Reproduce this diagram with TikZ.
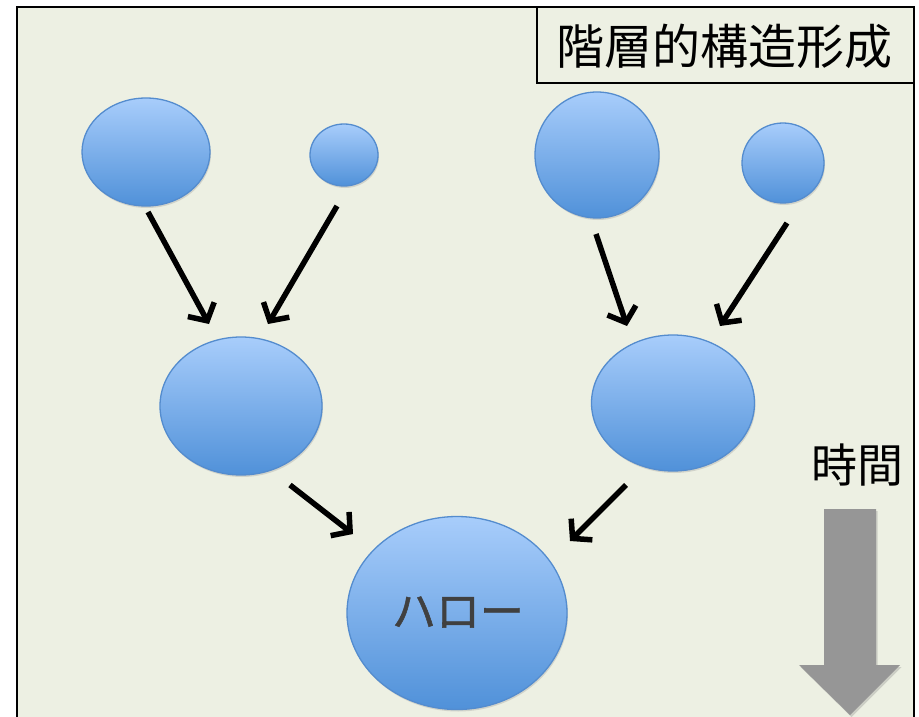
\documentclass[tikz,border=0pt]{standalone}
\usepackage{fontspec}
\newfontfamily\cjk{Noto Sans CJK JP}
\newfontfamily\cjkheavy[FakeBold=1.2]{Noto Sans CJK JP}
\usetikzlibrary{shapes.geometric,arrows.meta,shadows}
\definecolor{bg}{RGB}{237,240,227}
\definecolor{btop}{RGB}{168,205,251}
\definecolor{bbot}{RGB}{80,145,217}
\definecolor{bedge}{RGB}{84,140,206}
\definecolor{garrow}{RGB}{150,150,150}
\definecolor{halotext}{RGB}{64,64,64}
\begin{document}
\begin{tikzpicture}[x=1pt,y=-1pt,
  blob/.style={ellipse, draw=bedge, line width=1.3pt, top color=btop, bottom color=bbot,
    inner sep=0pt, drop shadow={shadow xshift=1pt,shadow yshift=-2pt,opacity=0.25}},
  flow/.style={line width=5.5pt, -{Straight Barb[length=13pt,width=30pt]}},
  cjktext/.style={font=\cjk\fontsize{#1}{#1}\selectfont, inner sep=0pt},
]
\path[use as bounding box] (0,0) rectangle (919,717);
\clip (0,0) rectangle (919,717);
% frame
\draw[line width=2pt, fill=bg, drop shadow={shadow xshift=-1.5pt,shadow yshift=0pt,opacity=0.35}] (17,7) rectangle (914,740);
% title box
\node[draw, line width=1.5pt, fill=bg, minimum width=377pt, minimum height=76pt, inner sep=0pt] (titlebox) at (725.5,45) {};
\node[cjktext=48] (title) at (724,46) {階層的構造形成};
% blobs
\node[blob, minimum width=128pt, minimum height=108pt] (e1) at (146,152) {};
\node[blob, minimum width=68pt, minimum height=62pt] (e2) at (344,155) {};
\node[blob, minimum width=124pt, minimum height=126pt] (e3) at (597,155) {};
\node[blob, minimum width=82pt, minimum height=80pt] (e4) at (783,163) {};
\node[blob, minimum width=162pt, minimum height=138pt] (e5) at (241,406) {};
\node[blob, minimum width=163pt, minimum height=136pt] (e6) at (673,403) {};
\node[blob, minimum width=220pt, minimum height=193pt] (e7) at (457,613) {};
\node[font=\cjkheavy\fontsize{44}{44}\selectfont, inner sep=0pt, text=halotext] (halo) at (458,612) {ハロー};
% connector ends
\coordinate (a1s) at (148,212); \coordinate (a1e) at (209,324);
\coordinate (a2s) at (337,206); \coordinate (a2e) at (268,324);
\coordinate (a3s) at (596,234); \coordinate (a3e) at (627,326);
\coordinate (a4s) at (787,223); \coordinate (a4e) at (720,326);
\coordinate (a5s) at (290,485); \coordinate (a5e) at (353,534);
\coordinate (a6s) at (626,485); \coordinate (a6e) at (570,541);
\draw[flow] (a1s) -- (a1e);
\draw[flow] (a2s) -- (a2e);
\draw[flow] (a3s) -- (a3e);
\draw[flow] (a4s) -- (a4e);
\draw[flow] (a5s) -- (a5e);
\draw[flow] (a6s) -- (a6e);
% time
\node[cjktext=46] (time) at (857,465) {時間};
\fill[garrow, drop shadow={shadow xshift=1.5pt,shadow yshift=-2pt,opacity=0.3}]
  (824,509) -- (876,509) -- (876,665) -- (900,665) -- (850,715) -- (799,665) -- (824,665) -- cycle;
\end{tikzpicture}
\end{document}
